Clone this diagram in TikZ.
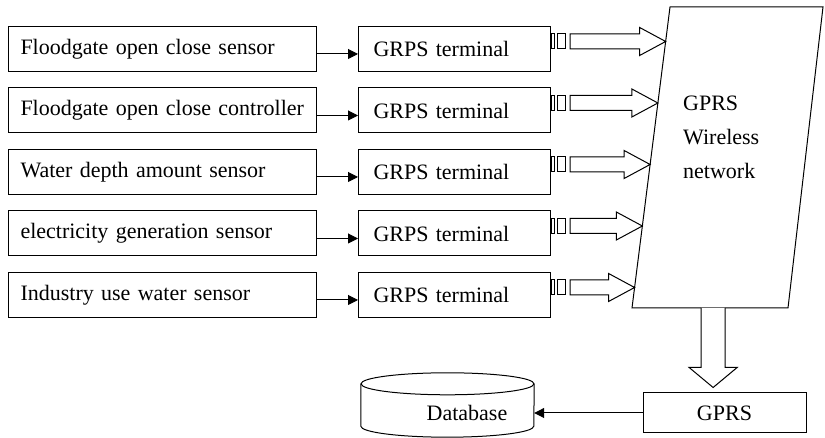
\documentclass[tikz,border=0pt]{standalone}
\usepackage{fontspec}
\setmainfont{Liberation Serif}
\usepackage{tikz}
\usetikzlibrary{positioning, arrows.meta, calc, intersections}

\begin{document}
\begin{tikzpicture}[
    x=1pt, y=1pt,
    every node/.style={font=\fontsize{22}{26}\selectfont},
    sensor/.style={draw, line width=1pt, minimum height=45pt, text width=284pt, inner xsep=12pt, align=left},
    terminal/.style={draw, line width=1pt, minimum height=45pt, text width=162pt, inner xsep=15pt, align=left},
    link/.style={draw, line width=1pt, -{Triangle[length=10pt,width=10pt]}},
    hollow/.style={draw, line width=1pt, fill=white, line join=miter},
    node distance=15.5pt and 41pt
]
\useasboundingbox (0,0) rectangle (825,438);
\node[sensor, anchor=north west] (s1) at (8,412) {Floodgate open close sensor};
\node[sensor, below=of s1] (s2) {Floodgate open close controller};
\node[sensor, below=of s2] (s3) {Water depth amount sensor};
\node[sensor, below=of s3] (s4) {electricity generation sensor};
\node[sensor, below=of s4] (s5) {Industry use water sensor};
\coordinate (pBL) at (632,130);
\coordinate (pBR) at (788,130);
\coordinate (pTR) at (823,431);
\coordinate (pTL) at (670,431);
\path[name path=edge] (pTL) -- (pBL);
\foreach \i in {1,...,5}{
    \node[terminal, right=of s\i] (t\i) {GRPS terminal};
    \draw[link] ([yshift=-5pt]s\i.east) -- ([yshift=-5pt]t\i.west);
    \coordinate (a\i) at ([yshift=7.5pt]t\i.east);
    \path[name path=ray] (a\i) -- ++(200,0);
    \path[name intersections={of=ray and edge, by=tip\i}];
    \draw[line width=1pt] ([yshift=-7.5pt]a\i) rectangle ++(3.5,15);
    \draw[line width=1pt] ([xshift=6pt,yshift=-7.5pt]a\i) rectangle ++(8,15);
    \draw[hollow] ([xshift=19pt,yshift=7.5pt]a\i) -- ($(tip\i)+(-26,7.5)$) -- ($(tip\i)+(-26,14)$) -- (tip\i)
        -- ($(tip\i)+(-26,-14)$) -- ($(tip\i)+(-26,-7.5)$) -- ([xshift=19pt,yshift=-7.5pt]a\i) -- cycle;
}
\draw[line width=1pt] (pBL) -- (pBR) -- (pTR) -- (pTL) -- cycle;
\node[align=left, anchor=west, inner sep=0pt, font=\fontsize{22}{34}\selectfont] (net) at (683,301) {GPRS\\Wireless\\network};
\node[draw, line width=1pt, minimum width=163pt, minimum height=40pt] (g) at (724.5,25) {GPRS};
\coordinate (dtop) at ($(pBL)!0.52!(pBR)$);
\coordinate (dtip) at ($(dtop |- g.north)+(0,5)$);
\draw[hollow] ($(dtop)+(-12,0)$) -- ($(dtip)+(-12,20)$) -- ($(dtip)+(-24,20)$) -- (dtip)
    -- ($(dtip)+(24,20)$) -- ($(dtip)+(12,20)$) -- ($(dtop)+(12,0)$);
\node[minimum width=173pt, minimum height=42pt, inner sep=0pt] (db) at (447.5,33) {};
\draw[line width=1pt] (db.north) ellipse [x radius=86.5pt, y radius=11pt];
\draw[line width=1pt] (db.north west) -- (db.south west) arc [start angle=180, end angle=360, x radius=86.5pt, y radius=11pt] -- (db.north east);
\node (dbtext) at ([xshift=19.5pt,yshift=-8pt]db.center) {Database};
\draw[link] (g.west) -- (g.west -| db.east);
\end{tikzpicture}
\end{document}
